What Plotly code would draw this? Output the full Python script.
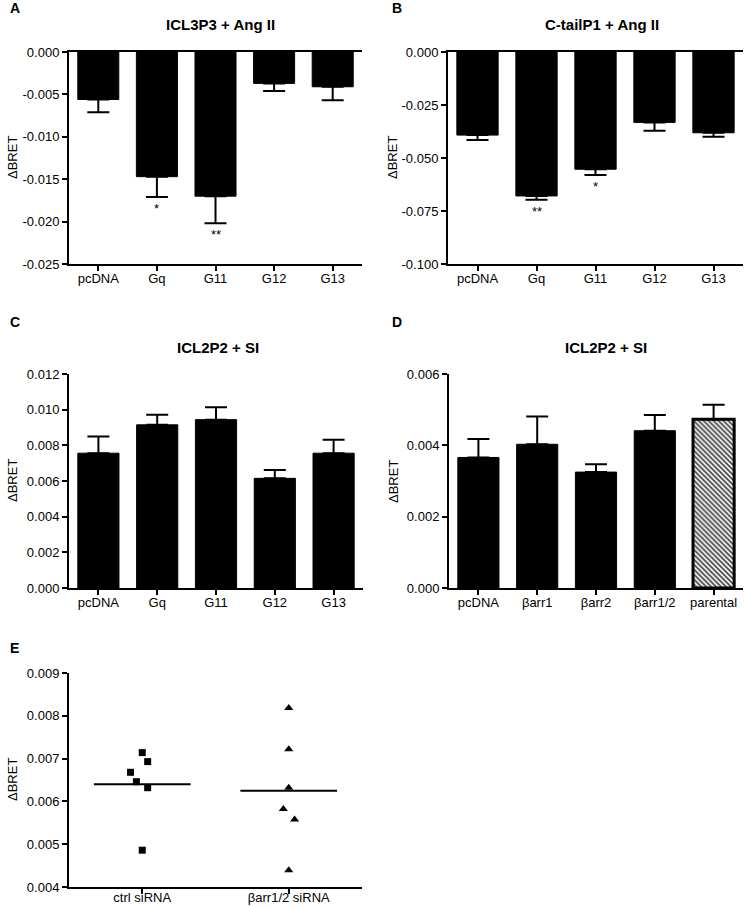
import plotly.graph_objects as go

# ---------------- data ----------------
cats_g = ["pcDNA", "Gq", "G11", "G12", "G13"]

a_vals = [-0.0056, -0.0147, -0.0170, -0.0037, -0.0041]
a_err = [0.0015, 0.0024, 0.0032, 0.0009, 0.0016]
a_sig = ["", "*", "**", "", ""]

b_vals = [-0.0392, -0.0679, -0.0553, -0.0332, -0.0381]
b_err = [0.0023, 0.0018, 0.0027, 0.0039, 0.0019]
b_sig = ["", "**", "*", "", ""]

c_vals = [0.00756, 0.00915, 0.00944, 0.00615, 0.00756]
c_err = [0.00094, 0.00057, 0.00069, 0.00047, 0.00075]

cats_arr = ["pcDNA", "βarr1", "βarr2", "βarr1/2", "parental"]
d_vals = [0.00366, 0.00403, 0.00325, 0.00441, 0.00473]
d_err = [0.00052, 0.00078, 0.00022, 0.00044, 0.00041]

e_cats = ["ctrl siRNA", "βarr1/2 siRNA"]
e_ctrl = [0.00714, 0.00693, 0.00668, 0.00646, 0.00632, 0.00486]
e_barr = [0.00818, 0.00722, 0.00632, 0.00582, 0.00558, 0.00439]

a_ticks = [0.000, -0.005, -0.010, -0.015, -0.020, -0.025]
b_ticks = [0.000, -0.025, -0.050, -0.075, -0.100]
c_ticks = [0.000, 0.002, 0.004, 0.006, 0.008, 0.010, 0.012]
d_ticks = [0.000, 0.002, 0.004, 0.006]
e_ticks = [0.004, 0.005, 0.006, 0.007, 0.008, 0.009]

titles = ["ICL3P3 + Ang II", "C-tailP1 + Ang II", "ICL2P2 + SI", "ICL2P2 + SI"]

# ---------------- styling ----------------
W, H = 745, 907
FONT = "Arial, Liberation Sans, Helvetica, sans-serif"


def px_x(p):
    return p / W


def px_y(p):
    return 1 - p / H


# panel plot areas in pixels: (left, right, top, bottom)
boxes = {
    "A": (69, 362, 52, 264),
    "B": (448, 743, 52, 264),
    "C": (69, 363, 374, 588),
    "D": (449, 743, 374, 588),
    "E": (69, 362, 673, 887),
}

fig = go.Figure()

err_style = dict(color="black", thickness=2, width=11)


def bar_trace(cats, vals, errs, ax, negative, colors=None, patterns=None, lw=None):
    n = len(vals)
    if negative:
        ey = dict(type="data", symmetric=False, array=[0] * n, arrayminus=errs, **err_style)
    else:
        ey = dict(type="data", symmetric=False, array=errs, arrayminus=[0] * n, **err_style)
    marker = dict(
        color=colors if colors else "black",
        line=dict(color="black", width=lw if lw else 1),
    )
    if patterns:
        marker["pattern"] = dict(shape=patterns, fillmode="overlay", fgcolor="black",
                                 fgopacity=1, size=3.5, solidity=0.5)
    return go.Bar(x=cats, y=vals, error_y=ey, marker=marker,
                  xaxis="x" + ax, yaxis="y" + ax, showlegend=False, width=0.7)


fig.add_trace(bar_trace(cats_g, a_vals, a_err, "", True))
fig.add_trace(bar_trace(cats_g, b_vals, b_err, "2", True))
fig.add_trace(bar_trace(cats_g, c_vals, c_err, "3", False))
fig.add_trace(bar_trace(cats_arr, d_vals, d_err, "4", False,
                        colors=["black"] * 4 + ["white"],
                        patterns=["", "", "", "", "\\"],
                        lw=[1, 1, 1, 1, 3]))

# panel E scatter
jit_ctrl = [0.0, 0.037, -0.08, -0.04, 0.037, 0.0]
jit_barr = [0.0, 0.0, 0.0, -0.037, 0.04, 0.0]
fig.add_trace(go.Scatter(x=[0 + j for j in jit_ctrl], y=e_ctrl, mode="markers",
                         marker=dict(symbol="square", size=7, color="black"),
                         xaxis="x5", yaxis="y5", showlegend=False))
fig.add_trace(go.Scatter(x=[1 + j for j in jit_barr], y=e_barr, mode="markers",
                         marker=dict(symbol="triangle-up", size=8, color="black"),
                         xaxis="x5", yaxis="y5", showlegend=False))
for i, grp in enumerate([e_ctrl, e_barr]):
    m = sum(grp) / len(grp)
    fig.add_trace(go.Scatter(x=[i - 0.33, i + 0.33], y=[m, m], mode="lines",
                             line=dict(color="black", width=2),
                             xaxis="x5", yaxis="y5", showlegend=False))

axis_common = dict(showline=True, linecolor="black", linewidth=2, ticks="outside",
                   ticklen=5, tickwidth=2, tickcolor="black", showgrid=False,
                   zeroline=False, automargin=False,
                   tickfont=dict(family=FONT, size=13, color="black"))

layout = dict(template="none", width=W, height=H, margin=dict(l=0, r=0, t=0, b=0),
              paper_bgcolor="white", plot_bgcolor="white", bargap=0.3,
              font=dict(family=FONT, color="black"), showlegend=False)

panel_axes = [("A", "", a_ticks, True), ("B", "2", b_ticks, True),
              ("C", "3", c_ticks, False), ("D", "4", d_ticks, False),
              ("E", "5", e_ticks, False)]

for key, ax, ticks, neg in panel_axes:
    l, r, t, b = boxes[key]
    xa = dict(axis_common, domain=[px_x(l), px_x(r)], anchor="y" + ax)
    if key == "E":
        xa.update(type="linear", range=[-0.5, 1.5], tickvals=[0, 1], ticktext=e_cats,
                  ticklabelstandoff=-8)
    else:
        xa.update(type="category", range=[-0.5, 4.5], ticklabelstandoff=-4)
    if neg:
        xa.update(mirror=True)
    ya = dict(axis_common, domain=[px_y(b), px_y(t)], anchor="x" + ax,
              range=[min(ticks), max(ticks)], tickvals=ticks,
              ticktext=[f"{v:.3f}" for v in ticks])
    layout["xaxis" + ax] = xa
    layout["yaxis" + ax] = ya

fig.update_layout(**layout)

annotations = []
# panel letters
for letter, (x, y) in {"A": (15, 8), "B": (397, 8), "C": (15, 322), "D": (397, 322), "E": (15, 648)}.items():
    annotations.append(dict(text=f"<b>{letter}</b>", x=px_x(x), y=px_y(y), xref="paper", yref="paper",
                            xanchor="center", yanchor="middle", showarrow=False,
                            font=dict(family=FONT, size=14, color="black")))
# titles
for txt, (x, y) in zip(titles, [(220, 25), (602, 25), (218, 348), (606, 348)]):
    annotations.append(dict(text=f"<b>{txt}</b>", x=px_x(x), y=px_y(y), xref="paper", yref="paper",
                            xanchor="center", yanchor="middle", showarrow=False,
                            font=dict(family=FONT, size=15, color="black")))
# y-axis titles
for key, x in [("A", 12), ("B", 392), ("C", 12), ("D", 393), ("E", 12)]:
    l, r, t, b = boxes[key]
    annotations.append(dict(text="ΔBRET", x=px_x(x), y=px_y((t + b) / 2), xref="paper", yref="paper",
                            xanchor="center", yanchor="middle", showarrow=False, textangle=-90,
                            font=dict(family=FONT, size=13, color="black")))
# significance stars
for ax, vals, errs, sig in [("", a_vals, a_err, a_sig), ("2", b_vals, b_err, b_sig)]:
    for c, v, e, s in zip(cats_g, vals, errs, sig):
        if s:
            annotations.append(dict(text=s, x=c, y=v - e, xref="x" + ax, yref="y" + ax,
                                    showarrow=False, yanchor="top", yshift=-2,
                                    font=dict(family=FONT, size=13, color="black")))

fig.update_layout(annotations=annotations)
fig.write_html("out.html", config={"displayModeBar": False},
               post_script="document.body.style.margin='0';document.body.style.overflow='hidden';")
